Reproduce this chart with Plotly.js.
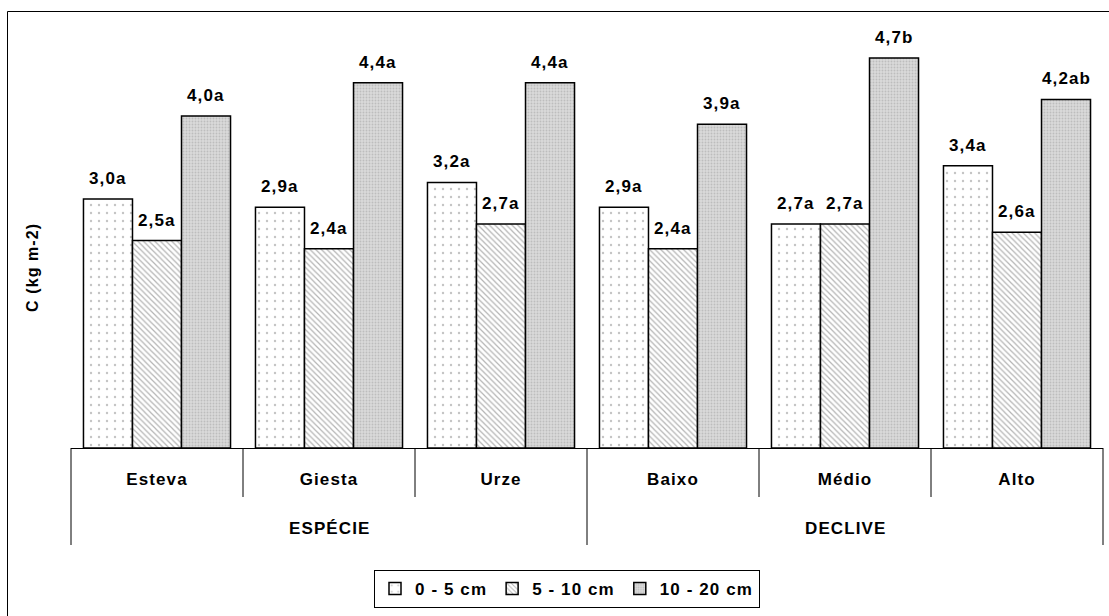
<!DOCTYPE html>
<html>
<head>
<meta charset="utf-8">
<script src="https://cdn.plot.ly/plotly-3.0.1.min.js"></script>
<style>
html,body{margin:0;padding:0;background:#fff;}
#chart{width:1109px;height:616px;}
svg text{letter-spacing:1.1px;}
</style>
</head>
<body>
<div id="chart"></div>
<script>
// ---- data ----
const categories = ["Esteva", "Giesta", "Urze", "Baixo", "Médio", "Alto"];
const groups = ["ESPÉCIE", "ESPÉCIE", "ESPÉCIE", "DECLIVE", "DECLIVE", "DECLIVE"];
const seriesNames = ["0 - 5 cm", "5 - 10 cm", "10 - 20 cm"];
const depth0_5 = [3.0, 2.9, 3.2, 2.9, 2.7, 3.4];
const depth5_10 = [2.5, 2.4, 2.7, 2.4, 2.7, 2.6];
const depth10_20 = [4.0, 4.4, 4.4, 3.9, 4.7, 4.2];
const letters0_5 = ["a", "a", "a", "a", "a", "a"];
const letters5_10 = ["a", "a", "a", "a", "a", "a"];
const letters10_20 = ["a", "a", "a", "a", "b", "ab"];
const yTitle = "C (kg m-2)";

const values = [depth0_5, depth5_10, depth10_20];
const letters = [letters0_5, letters5_10, letters10_20];

const FONT = "Liberation Sans, Arial, sans-serif";
const patterns = [
  {shape: ".", bgcolor: "#ffffff", fgcolor: "#c4c4c4", size: 8, solidity: 0.07},
  {shape: "\\", bgcolor: "#ffffff", fgcolor: "#b4b4b4", size: 4, solidity: 0.3},
  {shape: ".", bgcolor: "#dadada", fgcolor: "#bdbdbd", size: 3, solidity: 0.3}
];

const BARGAP = 0.145;
const traces = values.map((v, s) => ({
  type: "bar",
  name: seriesNames[s],
  x: categories,
  y: v,
  marker: {color: patterns[s].bgcolor, pattern: patterns[s], line: {color: "#000", width: 1.5}},
  hoverinfo: "skip"
}));

const fmt = v => v.toFixed(1).replace(".", ",");

// plot geometry in pixels (used to convert to paper coordinates)
const W = 1109, H = 616, ML = 71, MR = 6, MT = 33, MB = 168;
const PW = W - ML - MR, PH = H - MT - MB;
const px2xp = px => (px - ML) / PW;
const px2yp = py => (H - MB - py) / PH;
const nCat = categories.length;
const bndXp = i => i / nCat;               // boundary i in paper units

const annotations = [];
const barW = (1 - BARGAP) / 3 * (PW / nCat);
values.forEach((v, s) => {
  v.forEach((val, i) => {
    annotations.push({
      x: categories[i], y: val, xref: "x", yref: "y",
      text: "<b>" + fmt(val) + letters[s][i] + "</b>",
      showarrow: false, xanchor: "center", yanchor: "bottom",
      xshift: (s - 1) * barW, yshift: 9,
      font: {family: FONT, size: 17, color: "#000"}
    });
  });
});

// group labels
const uniqueGroups = [];
groups.forEach((g, i) => {
  if (!uniqueGroups.length || uniqueGroups[uniqueGroups.length - 1].name !== g) uniqueGroups.push({name: g, start: i, end: i});
  else uniqueGroups[uniqueGroups.length - 1].end = i;
});
uniqueGroups.forEach(g => {
  annotations.push({
    x: (bndXp(g.start) + bndXp(g.end + 1)) / 2, y: px2yp(528), xref: "paper", yref: "paper",
    text: "<b>" + g.name + "</b>", showarrow: false, xanchor: "center", yanchor: "middle",
    font: {family: FONT, size: 17, color: "#000"}
  });
});

// y title
annotations.push({
  x: px2xp(32), y: px2yp(268), xref: "paper", yref: "paper",
  text: "<b>" + yTitle + "</b>", textangle: -90, showarrow: false,
  xanchor: "center", yanchor: "middle",
  font: {family: FONT, size: 16, color: "#000"}
});

// dividers
const shapes = [];
const groupBounds = new Set();
uniqueGroups.forEach(g => { groupBounds.add(g.start); groupBounds.add(g.end + 1); });
for (let i = 0; i <= nCat; i++) {
  const long = groupBounds.has(i);
  shapes.push({
    type: "line", xref: "paper", yref: "paper",
    x0: bndXp(i), x1: bndXp(i), y0: 0, y1: px2yp(long ? 545 : 497),
    line: {color: "#000", width: 1}
  });
}
// outer frame
shapes.push({
  type: "rect", xref: "paper", yref: "paper",
  x0: px2xp(7.5), x1: px2xp(1130), y0: px2yp(11.5), y1: px2yp(640),
  line: {color: "#000", width: 1}, fillcolor: "rgba(0,0,0,0)"
});

const layout = {
  width: W, height: H, autosize: false,
  margin: {l: ML, r: MR, t: MT, b: MB, pad: 0},
  paper_bgcolor: "#fff", plot_bgcolor: "#fff",
  barmode: "group", bargap: BARGAP, bargroupgap: 0,
  showlegend: true,
  legend: {
    orientation: "h", x: px2xp(567), xanchor: "center", xref: "paper",
    y: px2yp(570), yanchor: "top", yref: "paper",
    bordercolor: "#000", borderwidth: 1, bgcolor: "#fff",
    font: {family: FONT, size: 17, color: "#000", weight: "bold"},
    itemwidth: 30, tracegroupgap: 0
  },
  xaxis: {
    type: "category", range: [-0.5, nCat - 0.5],
    showline: true, linecolor: "#000", linewidth: 1,
    ticks: "", showgrid: false, zeroline: false,
    ticklabelstandoff: 16,
    tickfont: {family: FONT, size: 17, color: "#000", weight: "bold"}
  },
  yaxis: {
    range: [0, 5], showline: false, showticklabels: false, ticks: "",
    showgrid: false, zeroline: false
  },
  annotations: annotations,
  shapes: shapes
};

Plotly.newPlot("chart", traces, layout, {displayModeBar: false, staticPlot: true});
</script>
</body>
</html>
